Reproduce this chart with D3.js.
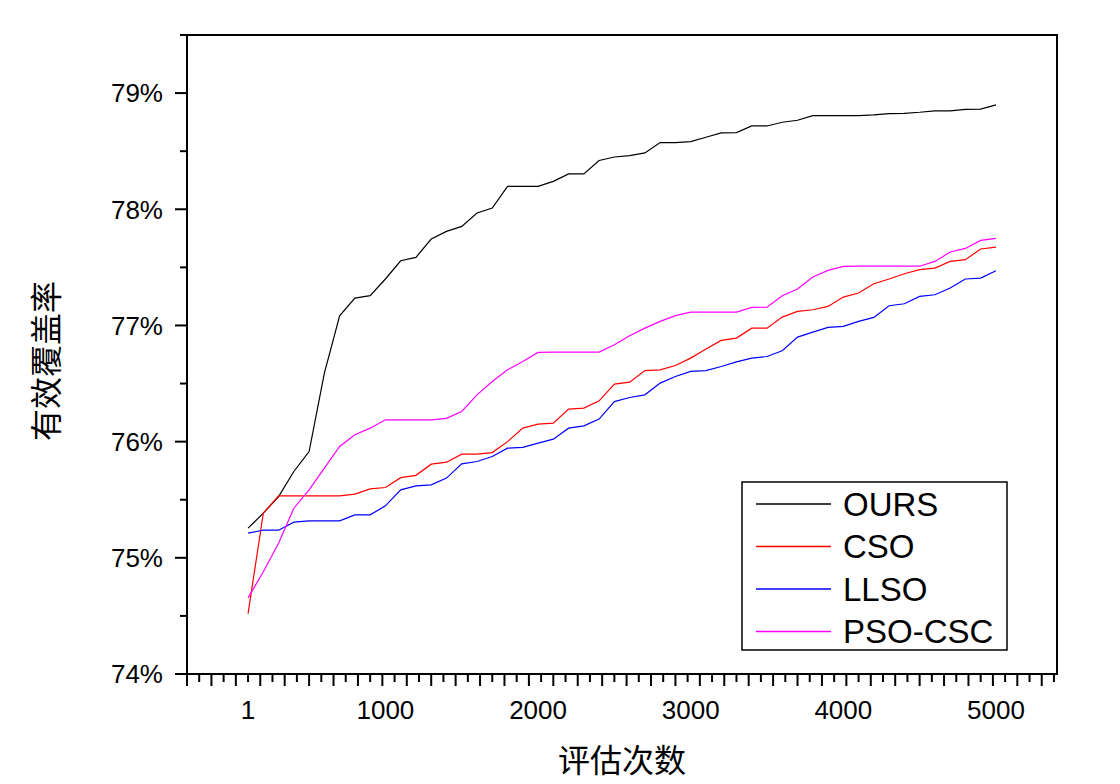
<!DOCTYPE html>
<html>
<head>
<meta charset="utf-8">
<script src="https://cdn.jsdelivr.net/npm/d3@7"></script>
<style>
  html, body { margin: 0; padding: 0; background: #fff; }
  svg text { font-family: Arial, "Liberation Sans", sans-serif; fill: #000; }
  .cjk { font-family: "Noto Sans CJK SC", sans-serif; }
</style>
</head>
<body>
<svg id="chart" width="1120" height="784"></svg>
<script>
(function () {
  'use strict';

  // evaluations, one point every 100
  var evals = [100, 200, 300, 400, 500, 600, 700, 800, 900, 1000,
    1100, 1200, 1300, 1400, 1500, 1600, 1700, 1800, 1900, 2000,
    2100, 2200, 2300, 2400, 2500, 2600, 2700, 2800, 2900, 3000,
    3100, 3200, 3300, 3400, 3500, 3600, 3700, 3800, 3900, 4000,
    4100, 4200, 4300, 4400, 4500, 4600, 4700, 4800, 4900, 5000];

  var ours = [75.255, 75.384, 75.527, 75.743, 75.915, 76.59, 77.083, 77.236, 77.256, 77.40,
    77.557, 77.586, 77.744, 77.81, 77.853, 77.968, 78.011, 78.197, 78.197, 78.197,
    78.24, 78.304, 78.304, 78.42, 78.45, 78.462, 78.485, 78.574, 78.574, 78.582,
    78.62, 78.657, 78.66, 78.717, 78.717, 78.749, 78.766, 78.806, 78.806, 78.806,
    78.806, 78.812, 78.823, 78.826, 78.835, 78.847, 78.847, 78.86, 78.862, 78.898];

  var cso = [74.52, 75.384, 75.533, 75.533, 75.533, 75.533, 75.533, 75.548, 75.593, 75.605,
    75.69, 75.71, 75.806, 75.823, 75.892, 75.892, 75.906, 76.0, 76.116, 76.15,
    76.159, 76.28, 76.289, 76.351, 76.495, 76.512, 76.612, 76.618, 76.655, 76.719,
    76.797, 76.871, 76.891, 76.977, 76.977, 77.072, 77.121, 77.135, 77.164, 77.244,
    77.279, 77.359, 77.40, 77.445, 77.48, 77.494, 77.551, 77.566, 77.658, 77.675];

  var llso = [75.212, 75.238, 75.238, 75.307, 75.318, 75.318, 75.318, 75.37, 75.37, 75.447,
    75.585, 75.619, 75.628, 75.686, 75.809, 75.829, 75.872, 75.944, 75.95, 75.987,
    76.021, 76.116, 76.136, 76.194, 76.345, 76.38, 76.403, 76.504, 76.561, 76.604,
    76.612, 76.647, 76.687, 76.719, 76.733, 76.782, 76.90, 76.943, 76.983, 76.992,
    77.035, 77.069, 77.17, 77.187, 77.25, 77.264, 77.322, 77.40, 77.408, 77.471];

  var psoCsc = [74.655, 74.88, 75.126, 75.427, 75.585, 75.772, 75.958, 76.059, 76.116, 76.188,
    76.188, 76.188, 76.188, 76.2, 76.26, 76.403, 76.518, 76.618, 76.69, 76.768,
    76.771, 76.771, 76.771, 76.771, 76.834, 76.911, 76.977, 77.035, 77.084, 77.115,
    77.115, 77.115, 77.115, 77.155, 77.157, 77.256, 77.313, 77.417, 77.474, 77.508,
    77.51, 77.51, 77.51, 77.51, 77.51, 77.551, 77.632, 77.663, 77.732, 77.75];

  var seriesNames = ['OURS', 'CSO', 'LLSO', 'PSO-CSC'];
  var seriesColors = ['#000000', '#ff0000', '#0000ff', '#ff00ff'];
  var seriesValues = [ours, cso, llso, psoCsc];

  var xTickValues = [100, 1000, 2000, 3000, 4000, 5000];
  var xTickLabels = ['1', '1000', '2000', '3000', '4000', '5000'];
  var yTickValues = [74, 75, 76, 77, 78, 79];

  var xTitle = '评估次数',
    yTitle = '有效覆盖率';

  var frame = {left: 187, right: 1057, top: 35, bottom: 674};

  var svg = d3.select('#chart');

  var x = d3.scaleLinear().domain([-300, 5400]).range([frame.left, frame.right]);
  var y = d3.scaleLinear().domain([74, 79.5]).range([frame.bottom, frame.top]);

  // x axis: minor ticks every 80 evaluations, every other one long
  var xMinor = d3.range(-300, 5400, 80);
  var xAxis = svg.append('g').attr('transform', 'translate(0,' + frame.bottom + ')');

  xAxis.selectAll('line.tick')
    .data(xMinor)
    .enter().append('line')
    .attr('class', 'tick')
    .attr('x1', function (d) { return x(d); })
    .attr('x2', function (d) { return x(d); })
    .attr('y1', 0)
    .attr('y2', function (d, i) { return i % 2 === 0 ? 12 : 8; })
    .attr('stroke', '#000')
    .attr('stroke-width', 2);

  xAxis.selectAll('text')
    .data(xTickValues)
    .enter().append('text')
    .attr('x', function (d) { return x(d); })
    .attr('y', 45)
    .attr('text-anchor', 'middle')
    .attr('font-size', 26)
    .text(function (d, i) { return xTickLabels[i]; });

  // y axis: major every 1%, minor every 0.5%
  var yAxis = svg.append('g').attr('transform', 'translate(' + frame.left + ',0)');

  yAxis.selectAll('line.tick')
    .data(d3.range(74, 79.51, 0.5))
    .enter().append('line')
    .attr('class', 'tick')
    .attr('y1', function (d) { return y(d); })
    .attr('y2', function (d) { return y(d); })
    .attr('x1', 0)
    .attr('x2', function (d) { return Math.abs(d - Math.round(d)) < 1e-6 ? -12 : -7; })
    .attr('stroke', '#000')
    .attr('stroke-width', 2);

  yAxis.selectAll('text')
    .data(yTickValues)
    .enter().append('text')
    .attr('x', -24)
    .attr('y', function (d) { return y(d); })
    .attr('dy', '0.36em')
    .attr('text-anchor', 'end')
    .attr('font-size', 26)
    .text(function (d) { return d + '%'; });

  // lines
  var line = d3.line()
    .x(function (d, i) { return x(evals[i]); })
    .y(function (d) { return y(d); });

  svg.append('g')
    .selectAll('path')
    .data(seriesValues)
    .enter().append('path')
    .attr('d', line)
    .attr('fill', 'none')
    .attr('stroke', function (d, i) { return seriesColors[i]; })
    .attr('stroke-width', 1.2);

  // frame
  svg.append('rect')
    .attr('x', frame.left)
    .attr('y', frame.top)
    .attr('width', frame.right - frame.left)
    .attr('height', frame.bottom - frame.top)
    .attr('fill', 'none')
    .attr('stroke', '#000')
    .attr('stroke-width', 2);

  // legend
  var legend = svg.append('g').attr('transform', 'translate(742,482)');

  legend.append('rect')
    .attr('width', 265)
    .attr('height', 168)
    .attr('fill', '#fff')
    .attr('stroke', '#000')
    .attr('stroke-width', 1.5);

  var rows = legend.selectAll('g.row')
    .data(seriesNames)
    .enter().append('g')
    .attr('class', 'row')
    .attr('transform', function (d, i) { return 'translate(0,' + (22 + i * 42.5) + ')'; });

  rows.append('line')
    .attr('x1', 14)
    .attr('x2', 89)
    .attr('stroke', function (d, i) { return seriesColors[i]; })
    .attr('stroke-width', 1.3);

  rows.append('text')
    .attr('x', 101)
    .attr('dy', '0.36em')
    .attr('font-size', 33)
    .text(function (d) { return d; });

  // titles
  svg.append('text')
    .attr('class', 'cjk')
    .attr('x', (frame.left + frame.right) / 2)
    .attr('y', 772)
    .attr('text-anchor', 'middle')
    .attr('font-size', 32)
    .text(xTitle);

  svg.append('text')
    .attr('class', 'cjk')
    .attr('transform', 'translate(58,' + 361 + ') rotate(-90)')
    .attr('text-anchor', 'middle')
    .attr('font-size', 32)
    .text(yTitle);
}());
</script>
</body>
</html>
